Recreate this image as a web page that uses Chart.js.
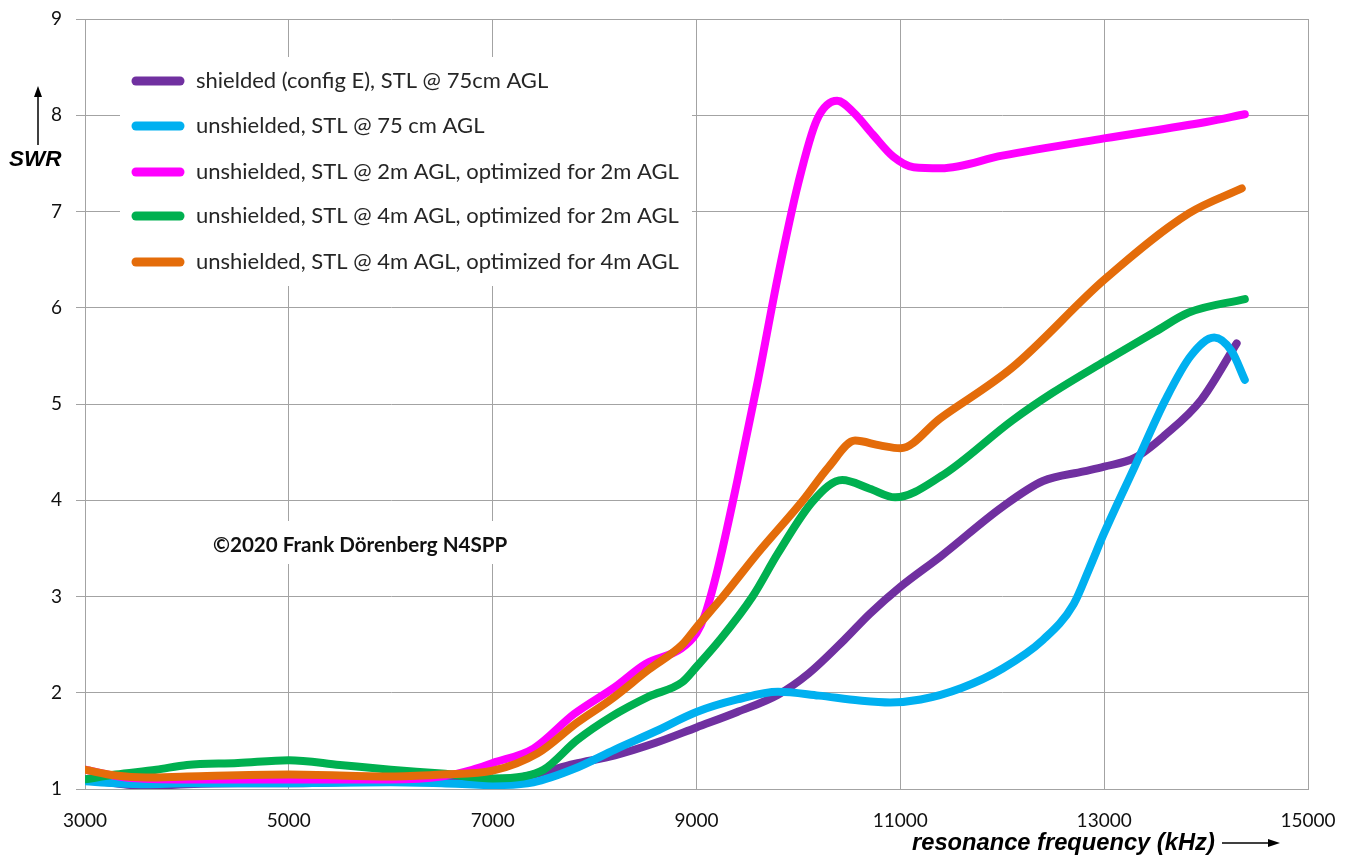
<!DOCTYPE html>
<html>
<head>
<meta charset="utf-8">
<script src="https://cdn.jsdelivr.net/npm/chart.js@4"></script>
<style>
html, body { margin: 0; padding: 0; background: #fff; }
#wrap { width: 1353px; height: 857px; }
</style>
</head>
<body>
<div id="wrap"><canvas id="chart" width="1353" height="857"></canvas></div>
<script>
// series: resonance frequency (kHz) vs SWR
const shieldedFreq = [3000, 3300, 3600, 4000, 4500, 5000, 5500, 6000, 6500, 7000, 7400, 7800, 8200, 8600, 9000, 9400, 9800, 10100, 10450, 10700, 11000, 11400, 12000, 12400, 12800, 13000, 13300, 13600, 13950, 14300];
const shieldedSwr  = [1.10, 1.06, 1.03, 1.05, 1.06, 1.06, 1.07, 1.08, 1.08, 1.08, 1.15, 1.26, 1.35, 1.48, 1.64, 1.80, 1.98, 2.20, 2.55, 2.82, 3.10, 3.42, 3.93, 4.20, 4.30, 4.35, 4.44, 4.68, 5.04, 5.63];

const unsh75Freq = [3000, 3300, 3600, 4000, 5000, 6000, 6500, 7000, 7400, 7800, 8200, 8600, 9000, 9400, 9800, 10200, 10600, 10900, 11200, 11600, 12000, 12400, 12700, 12850, 13000, 13300, 13600, 13850, 14080, 14250, 14380];
const unsh75Swr  = [1.08, 1.06, 1.05, 1.06, 1.06, 1.07, 1.06, 1.04, 1.07, 1.21, 1.41, 1.60, 1.80, 1.93, 2.01, 1.97, 1.92, 1.90, 1.93, 2.05, 2.25, 2.55, 2.92, 3.28, 3.66, 4.35, 5.04, 5.50, 5.69, 5.55, 5.25];

const unsh2mFreq = [3000, 3400, 4000, 5000, 6000, 6500, 6800, 7000, 7400, 7800, 8200, 8500, 8850, 9000, 9080, 9200, 9400, 9600, 9800, 10000, 10180, 10380, 10540, 10730, 10930, 11130, 11400, 12000, 13000, 14000, 14380];
const unsh2mSwr  = [1.20, 1.12, 1.10, 1.10, 1.10, 1.13, 1.20, 1.27, 1.42, 1.78, 2.06, 2.30, 2.46, 2.62, 2.80, 3.25, 4.20, 5.23, 6.33, 7.30, 7.95, 8.15, 8.03, 7.80, 7.57, 7.46, 7.45, 7.58, 7.76, 7.93, 8.01];

const unsh4mFreq = [3000, 3300, 3700, 4000, 4500, 5000, 5500, 6000, 6500, 7000, 7300, 7500, 7830, 8160, 8530, 8860, 9000, 9230, 9550, 9800, 10150, 10430, 10700, 10950, 11400, 12100, 12500, 13000, 13500, 13830, 14380];
const unsh4mSwr  = [1.10, 1.15, 1.20, 1.25, 1.27, 1.30, 1.25, 1.20, 1.16, 1.11, 1.13, 1.20, 1.51, 1.75, 1.96, 2.11, 2.27, 2.55, 3.00, 3.45, 4.00, 4.21, 4.12, 4.03, 4.25, 4.83, 5.12, 5.44, 5.75, 5.95, 6.09];

const opt4mFreq = [3000, 3300, 3600, 4000, 5000, 6000, 6500, 7000, 7440, 7830, 8160, 8530, 8860, 9000, 9260, 9600, 10046, 10300, 10556, 10800, 11000, 11390, 12100, 13000, 13830, 14350];
const opt4mSwr  = [1.20, 1.14, 1.12, 1.13, 1.15, 1.13, 1.15, 1.19, 1.37, 1.69, 1.93, 2.24, 2.50, 2.68, 3.00, 3.45, 4.00, 4.35, 4.62, 4.57, 4.54, 4.85, 5.38, 6.29, 6.98, 7.24];

const seriesNames = [
    "shielded (config E), STL @ 75cm AGL",
    "unshielded, STL @ 75 cm AGL",
    "unshielded, STL @ 2m AGL, optimized for 2m AGL",
    "unshielded, STL @ 4m AGL, optimized for 2m AGL",
    "unshielded, STL @ 4m AGL, optimized for 4m AGL"
];
const seriesColors = ["#7030A0", "#00B0F0", "#FF00FF", "#00B050", "#E46C0A"];

const xTicks = [3000, 5000, 7000, 9000, 11000, 13000, 15000];
const yTicks = [1, 2, 3, 4, 5, 6, 7, 8, 9];

const copyrightText = "\u00A92020 Frank D\u00F6renberg N4SPP";

function toPoints(xs, ys) {
    return xs.map((x, i) => ({ x: x, y: ys[i] }));
}

const allData = [
    toPoints(shieldedFreq, shieldedSwr),
    toPoints(unsh75Freq, unsh75Swr),
    toPoints(unsh2mFreq, unsh2mSwr),
    toPoints(unsh4mFreq, unsh4mSwr),
    toPoints(opt4mFreq, opt4mSwr)
];

const datasets = allData.map((pts, i) => ({
    label: seriesNames[i],
    data: pts,
    borderColor: seriesColors[i],
    backgroundColor: seriesColors[i],
    borderWidth: 8,
    borderCapStyle: "round",
    borderJoinStyle: "round",
    pointRadius: 0,
    cubicInterpolationMode: "monotone",
    fill: false,
    order: 5 - i
}));

const GRID = "#a3a3a3";

// legend, copyright note and axis titles drawn over the grid
const decorations = {
    id: "decorations",
    beforeDatasetsDraw(chart) {
        const ctx = chart.ctx;
        ctx.save();

        // legend box
        ctx.fillStyle = "#fff";
        ctx.fillRect(120, 57, 572, 229);
        const rows = [81, 126, 172, 216, 262];
        ctx.font = "22px Lato";
        ctx.textBaseline = "middle";
        rows.forEach((y, i) => {
            ctx.strokeStyle = seriesColors[i];
            ctx.lineWidth = 9;
            ctx.lineCap = "round";
            ctx.beginPath();
            ctx.moveTo(136, y);
            ctx.lineTo(180, y);
            ctx.stroke();
            ctx.fillStyle = "#262626";
            ctx.fillText(seriesNames[i], 196, y);
        });

        // copyright
        ctx.fillStyle = "#fff";
        ctx.fillRect(205, 521, 312, 43);
        ctx.fillStyle = "#111";
        ctx.font = "bold 20.6px Lato";
        ctx.fillText(copyrightText, 213, 545);
        ctx.restore();
    },
    afterDraw(chart) {
        const ctx = chart.ctx;
        ctx.save();
        ctx.fillStyle = "#000";
        ctx.strokeStyle = "#000";
        ctx.lineWidth = 1.5;
        ctx.textBaseline = "middle";

        // y title with arrow
        ctx.font = "italic bold 22.5px 'Liberation Sans'";
        ctx.fillText("SWR", 9, 160);
        ctx.beginPath();
        ctx.moveTo(38, 145);
        ctx.lineTo(38, 92);
        ctx.stroke();
        ctx.beginPath();
        ctx.moveTo(38, 86);
        ctx.lineTo(34, 97);
        ctx.lineTo(42, 97);
        ctx.closePath();
        ctx.fill();

        // x title with arrow
        ctx.font = "italic bold 23.7px 'Liberation Sans'";
        ctx.fillText("resonance frequency (kHz)", 912, 843);
        ctx.beginPath();
        ctx.moveTo(1222, 843);
        ctx.lineTo(1272, 843);
        ctx.stroke();
        ctx.beginPath();
        ctx.moveTo(1280, 843);
        ctx.lineTo(1268, 839);
        ctx.lineTo(1268, 847);
        ctx.closePath();
        ctx.fill();
        ctx.restore();
    }
};

const chart = new Chart(document.getElementById("chart"), {
    type: "line",
    data: { datasets: datasets },
    options: {
        responsive: false,
        animation: false,
        layout: { padding: { top: 19, right: 45, left: 0, bottom: 0 } },
        plugins: {
            legend: { display: false },
            tooltip: { enabled: false }
        },
        scales: {
            x: {
                type: "linear",
                min: xTicks[0],
                max: xTicks[xTicks.length - 1],
                afterBuildTicks: s => { s.ticks = xTicks.map(v => ({ value: v })); },
                afterFit: s => {
                    s.height = 68;
                    s.paddingLeft = 0;
                    s.paddingRight = 0;
                },
                grid: { color: GRID, lineWidth: 1, drawTicks: false },
                border: { color: GRID, width: 1 },
                ticks: {
                    padding: 20,
                    color: "#111",
                    font: { family: "Lato", size: 19 },
                    maxRotation: 0,
                    callback: v => String(v)
                }
            },
            y: {
                min: yTicks[0],
                max: yTicks[yTicks.length - 1],
                afterBuildTicks: s => { s.ticks = yTicks.map(v => ({ value: v })); },
                afterFit: s => {
                    s.width = 85;
                    s.paddingTop = 0;
                    s.paddingBottom = 0;
                },
                grid: { color: GRID, lineWidth: 1, tickLength: 9 },
                border: { color: GRID, width: 1 },
                ticks: {
                    padding: 14,
                    color: "#111",
                    font: { family: "Lato", size: 19 },
                    callback: v => String(v)
                }
            }
        }
    },
    plugins: [decorations]
});
</script>
</body>
</html>
